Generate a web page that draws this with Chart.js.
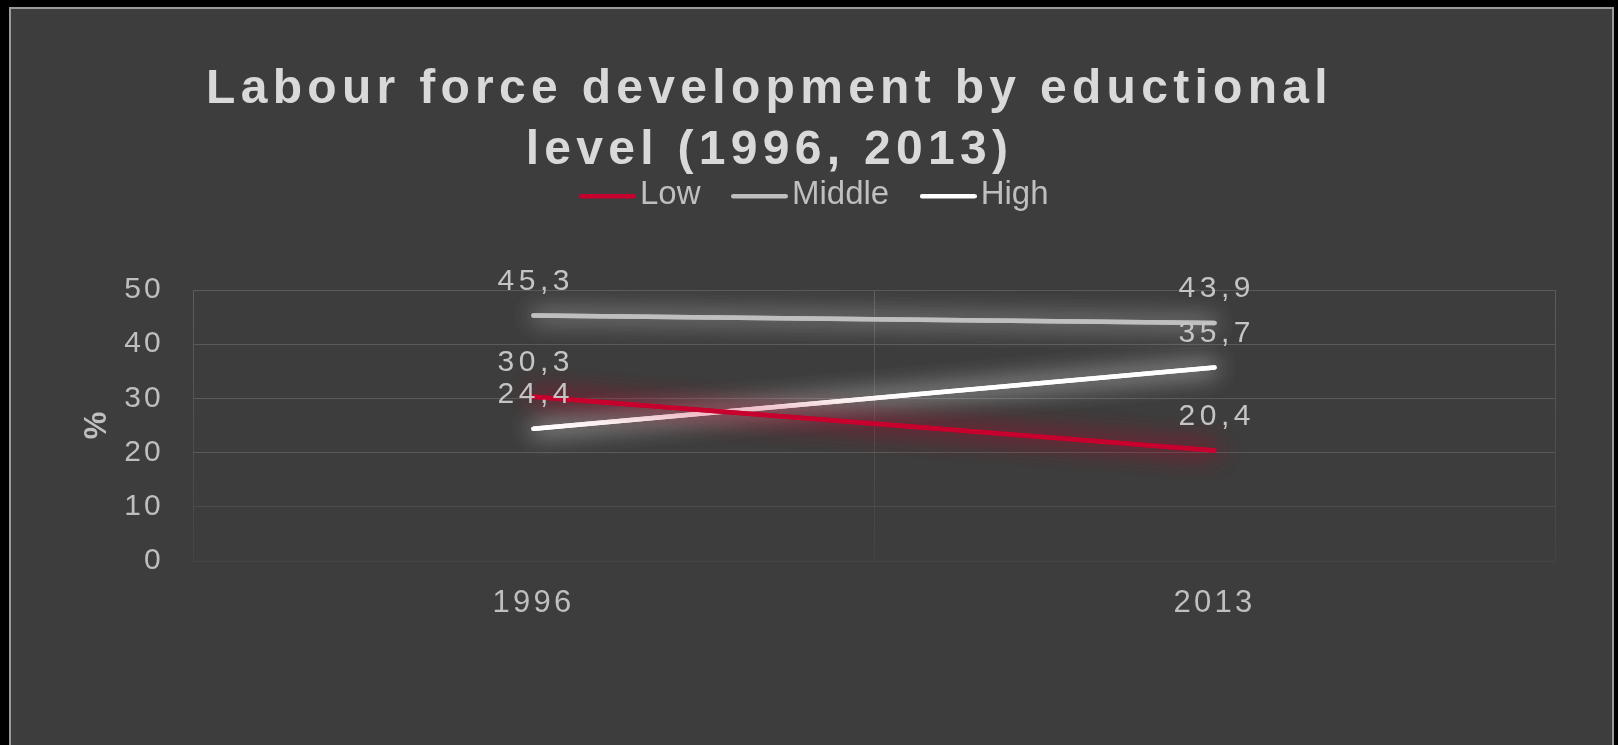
<!DOCTYPE html>
<html><head><meta charset="utf-8">
<script src="https://cdn.jsdelivr.net/npm/chart.js@4.4.1/dist/chart.umd.min.js"></script>
<style>html,body{margin:0;padding:0;background:#000;}canvas{display:block;}</style>
</head><body>
<canvas id="c" width="1618" height="745" style="width:1618px;height:745px"></canvas>
<script>
// ---- data ----
const categories = ['1996', '2013'];
const seriesNames = ['Low', 'Middle', 'High'];
const lowValues = [30.3, 20.4];
const middleValues = [45.3, 43.9];
const highValues = [24.4, 35.7];
const yTicks = [0, 10, 20, 30, 40, 50];
const titleLines = ['Labour force development by eductional', 'level (1996, 2013)'];
const yAxisTitle = '%';

// ---- styles ----
const FONT = "'Liberation Sans', Arial, sans-serif";
const seriesColors = ['#C8002E', '#BFBFBF', '#FFFFFF'];
const glowColors = ['rgba(190,0,40,0.9)', 'rgba(200,200,200,0.8)', 'rgba(255,255,255,0.8)'];
const textColor = '#BFBFBF';

function legendLine(color) {
  const c = document.createElement('canvas');
  c.width = 57; c.height = 10;
  const g = c.getContext('2d');
  g.strokeStyle = color; g.lineWidth = 4.5; g.lineCap = 'round';
  g.beginPath(); g.moveTo(2.25, 6.3); g.lineTo(54.75, 6.3); g.stroke();
  return c;
}
const legendImages = seriesColors.map(legendLine);

function wrapMethod(obj, method, spacing, dx) {
  if (!obj || obj['_w_' + method]) return;
  const orig = obj[method];
  obj[method] = function (...args) {
    const c = this.ctx;
    c.save();
    c.letterSpacing = spacing;
    if (dx) c.translate(dx, 0);
    const r = orig.apply(this, args);
    c.restore();
    return r;
  };
  obj['_w_' + method] = true;
}

const bgPlugin = {
  id: 'bg',
  beforeLayout(chart) {
    const lg = chart.legend;
    if (lg && !lg._wfit) {
      const of = lg.fit;
      lg.fit = function () { of.call(this); this.height = 154.5; };
      lg._wfit = true;
    }
  },
  beforeDraw(chart) {
    const ctx = chart.ctx;
    ctx.save();
    ctx.fillStyle = '#000';
    ctx.fillRect(0, 0, chart.width, chart.height);
    ctx.fillStyle = '#3D3D3D';
    ctx.fillRect(10, 8, 1603, 760);
    ctx.strokeStyle = '#9A9A9A';
    ctx.lineWidth = 2;
    ctx.strokeRect(10, 8, 1603, 760);
    ctx.restore();
    wrapMethod(chart.titleBlock, 'draw', '5.3px', -50.5);
    wrapMethod(chart.scales.x, 'drawLabels', '3.2px', 0);
    wrapMethod(chart.scales.y, 'drawLabels', '3.2px', 0);
  }
};

const glowPlugin = {
  id: 'glow',
  beforeDatasetDraw(chart, args) {
    const ctx = chart.ctx;
    ctx.save();
    ctx.shadowColor = glowColors[args.index];
    ctx.shadowBlur = 24;
  },
  afterDatasetDraw(chart, args) {
    // second pass of the same line element strengthens the soft glow
    args.meta.dataset.draw(chart.ctx, chart.chartArea);
    chart.ctx.restore();
  }
};

const labelPlugin = {
  id: 'vlabels',
  afterDatasetsDraw(chart) {
    const ctx = chart.ctx;
    ctx.save();
    ctx.letterSpacing = '4.5px';
    ctx.font = '30px ' + FONT;
    ctx.fillStyle = '#C4C4C4';
    ctx.textAlign = 'center';
    ctx.textBaseline = 'middle';
    chart.data.datasets.forEach((ds, i) => {
      const meta = chart.getDatasetMeta(i);
      meta.data.forEach((pt, j) => {
        const txt = ds.data[j].toFixed(1).replace('.', ',');
        ctx.fillText(txt, pt.x + 2.25, pt.y - 34);
      });
    });
    ctx.restore();
  }
};

const allValues = [lowValues, middleValues, highValues];
const datasets = seriesNames.map((name, i) => ({
  label: name,
  data: allValues[i],
  borderColor: seriesColors[i],
  backgroundColor: seriesColors[i],
  borderWidth: 4.5,
  borderCapStyle: 'round',
  pointRadius: 0,
  pointHoverRadius: 0,
  tension: 0,
  fill: false
}));

new Chart(document.getElementById('c'), {
  type: 'line',
  data: { labels: categories, datasets },
  options: {
    responsive: false,
    animation: false,
    devicePixelRatio: 1,
    events: [],
    layout: { padding: { left: 85, right: 63, top: 0, bottom: 0 } },
    plugins: {
      title: {
        display: true,
        text: titleLines,
        color: '#D9D9D9',
        font: { family: FONT, size: 48, weight: 'bold', lineHeight: 1.275 },
        padding: { top: 59.4, bottom: -46.3 }
      },
      legend: {
        display: true,
        position: 'top',
        labels: {
          usePointStyle: true,
          boxWidth: 32,
          padding: 43,
          color: textColor,
          font: { family: FONT, size: 33 },
          generateLabels: (chart) =>
            Chart.defaults.plugins.legend.labels.generateLabels(chart).map((it, i) => Object.assign(it, { pointStyle: legendImages[i] }))
        }
      },
      tooltip: { enabled: false }
    },
    scales: {
      x: {
        offset: true,
        grid: {
          offset: true,
          drawTicks: false,
          lineWidth: 1,
          color: (c) => {
            const a = c.chart.chartArea;
            if (!a) return '#555555';
            const g = c.chart.ctx.createLinearGradient(0, a.top, 0, a.bottom);
            g.addColorStop(0, '#5C5C5C');
            g.addColorStop(1, '#444444');
            return g;
          }
        },
        border: { display: false },
        ticks: { color: textColor, font: { family: FONT, size: 31 }, padding: 24 },
        afterFit: (s) => { s.height = 184; }
      },
      y: {
        min: 0,
        max: 50,
        afterBuildTicks: (s) => { s.ticks = yTicks.map(v => ({ value: v })); },
        grid: {
          drawTicks: false,
          lineWidth: 1,
          color: (c) => {
            const v = c.tick ? c.tick.value : 50;
            if (v <= 0) return '#464646';
            if (v <= 10) return '#4C4C4C';
            return '#5A5A5A';
          }
        },
        border: { display: false },
        ticks: { color: textColor, font: { family: FONT, size: 30 }, padding: 29 },
        title: {
          display: true,
          text: yAxisTitle,
          color: textColor,
          font: { family: FONT, size: 31, weight: 'bold', lineHeight: 1 },
          padding: { top: -3.5, bottom: 0 }
        },
        afterFit: (s) => { s.width = 108; }
      }
    }
  },
  plugins: [bgPlugin, glowPlugin, labelPlugin]
});
</script>
</body></html>
